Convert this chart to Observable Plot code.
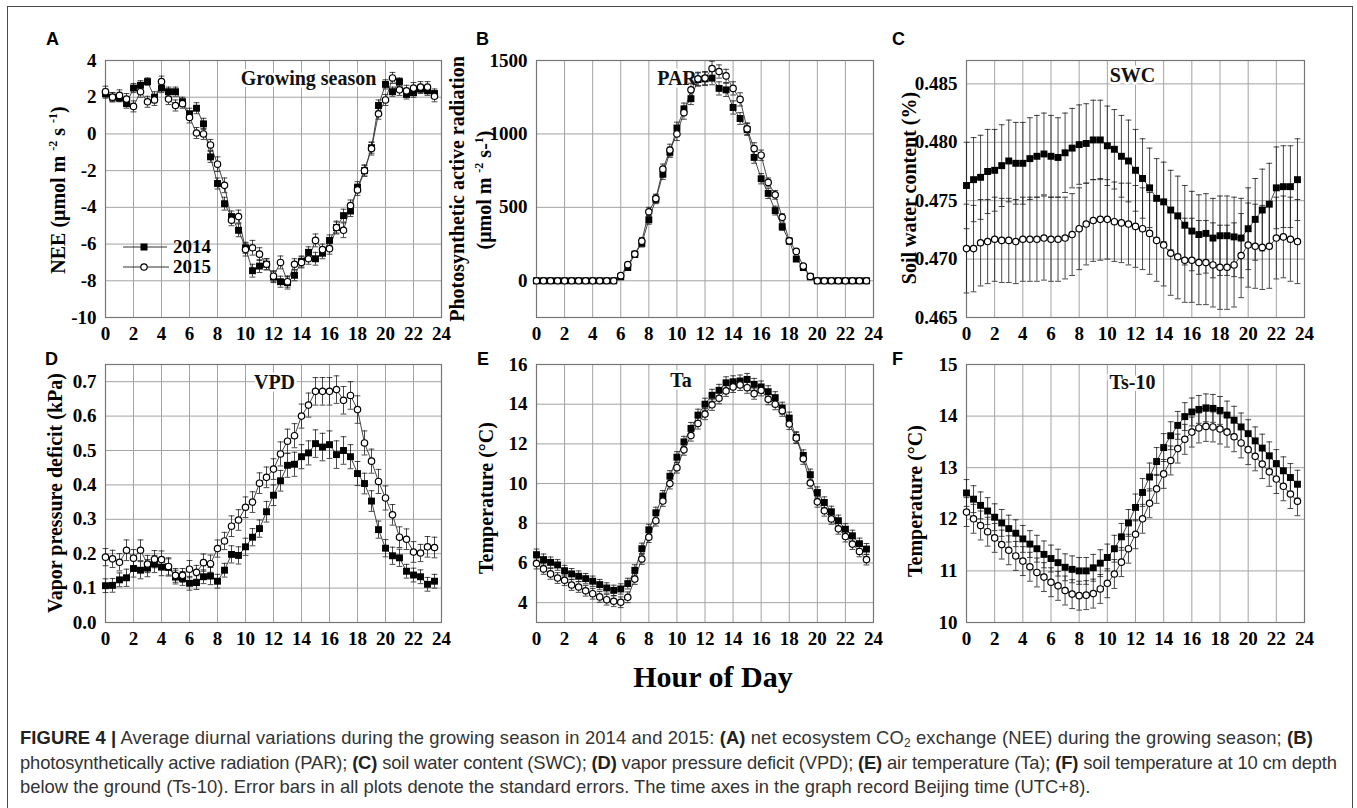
<!DOCTYPE html>
<html>
<head>
<meta charset="utf-8">
<script src="https://cdn.jsdelivr.net/npm/d3@7"></script>
<script src="https://cdn.jsdelivr.net/npm/@observablehq/plot@0.6"></script>
<style>
  body { margin: 0; background: #fff; }
  #fig { position: relative; width: 1357px; height: 808px; overflow: hidden; background: #fff; }
  #border { position: absolute; left: 7px; top: 6px; width: 1346px; height: 900px; border: 1.5px solid #4a4a4a; box-sizing: border-box; }
  .panel-letter { position: absolute; font: bold 18px "Liberation Sans", Arial, sans-serif; color: #000; line-height: 1; }
  .ytitle { position: absolute; white-space: nowrap; font: bold 20px "Liberation Serif", "Times New Roman", serif; color: #000;
            transform: translate(-50%, -50%) rotate(-90deg); line-height: 1; }
  .ytitle sup { font-size: 12px; vertical-align: 8px; line-height: 0; }
  #xtitle { position: absolute; left: 713px; top: 677px; transform: translate(-50%, -50%); white-space: nowrap;
            font: bold 30px "Liberation Serif", "Times New Roman", serif; color: #000; }
  #legend { position: absolute; left: 118px; top: 236px; }
  #legend text { font: bold 19px "Liberation Serif", "Times New Roman", serif; }
  #caption { position: absolute; left: 20px; top: 726px; font: 18.4px "Liberation Sans", Arial, sans-serif; color: #333; line-height: 24.5px; white-space: nowrap; }
  #caption b { color: #222; }
  #caption sub { font-size: 12px; vertical-align: -3px; line-height: 0; }
  #caption .l1 { letter-spacing: 0.12px; }
  #caption .l2 { letter-spacing: -0.16px; }
</style>
</head>
<body>
<div id="fig">
  <div id="border"></div>
</div>
<script>
// Half-hourly time of day (Beijing time)
const hours = [0, 0.5, 1, 1.5, 2, 2.5, 3, 3.5, 4, 4.5, 5, 5.5, 6, 6.5, 7, 7.5, 8, 8.5, 9, 9.5, 10, 10.5, 11, 11.5,
               12, 12.5, 13, 13.5, 14, 14.5, 15, 15.5, 16, 16.5, 17, 17.5, 18, 18.5, 19, 19.5, 20, 20.5, 21, 21.5, 22, 22.5, 23, 23.5];
const hourTicks = [0, 2, 4, 6, 8, 10, 12, 14, 16, 18, 20, 22, 24];
const years = ["2014", "2015"];

// (A) NEE, µmol m-2 s-1
const nee2014 = [2.2, 2.0, 1.95, 1.65, 2.5, 2.65, 2.85, 2.0, 2.5, 2.3, 2.3, 1.75, 1.1, 1.4, 0.55, -1.25, -2.7, -3.8, -4.5, -5.25, -6.2, -7.45, -7.2, -7.1,
                 -7.8, -8.05, -8.1, -7.7, -6.95, -6.45, -6.8, -6.5, -5.8, -5.1, -4.45, -4.2, -2.9, -2.0, -0.75, 1.55, 2.7, 2.3, 2.85, 2.15, 2.25, 2.45, 2.35, 2.2];
const nee2015 = [2.3, 2.0, 2.1, 1.9, 1.5, 2.3, 1.75, 1.85, 2.85, 1.9, 1.55, 1.65, 0.9, 0.05, 0.0, -0.6, -1.65, -2.8, -4.7, -4.5, -6.3, -6.2, -6.55, -7.1,
                 -7.75, -7.0, -8.05, -7.1, -7.0, -6.8, -5.8, -6.3, -6.25, -5.1, -5.25, -3.9, -3.05, -2.0, -0.8, 1.1, 1.85, 3.05, 2.4, 2.35, 2.5, 2.55, 2.55, 2.05];
const neeSe2014 = [0.25, 0.25, 0.2, 0.25, 0.25, 0.25, 0.2, 0.3, 0.25, 0.25, 0.25, 0.25, 0.3, 0.3, 0.3, 0.3, 0.3, 0.35, 0.3, 0.35, 0.3, 0.35, 0.35, 0.3,
                   0.3, 0.3, 0.35, 0.3, 0.3, 0.3, 0.35, 0.3, 0.3, 0.3, 0.35, 0.3, 0.3, 0.3, 0.3, 0.3, 0.25, 0.25, 0.2, 0.25, 0.25, 0.25, 0.25, 0.25];
const neeSe2015 = [0.3, 0.25, 0.3, 0.3, 0.3, 0.3, 0.3, 0.3, 0.3, 0.3, 0.3, 0.25, 0.3, 0.3, 0.3, 0.3, 0.4, 0.4, 0.3, 0.35, 0.35, 0.4, 0.35, 0.3,
                   0.3, 0.35, 0.3, 0.3, 0.3, 0.3, 0.35, 0.3, 0.3, 0.35, 0.4, 0.3, 0.3, 0.3, 0.35, 0.3, 0.3, 0.3, 0.3, 0.3, 0.3, 0.3, 0.3, 0.3];

// (B) PAR, µmol m-2 s-1
const par2014 = [0, 0, 0, 0, 0, 0, 0, 0, 0, 0, 0, 0, 27, 90, 180, 255, 415, 555, 725, 875, 1040, 1170, 1240, 1370,
                 1375, 1380, 1310, 1300, 1180, 1105, 1030, 840, 695, 595, 478, 368, 270, 148, 90, 27, 0, 0, 0, 0, 0, 0, 0, 0];
const par2015 = [0, 0, 0, 0, 0, 0, 0, 0, 0, 0, 0, 0, 35, 110, 182, 270, 470, 560, 760, 890, 1000, 1145, 1300, 1375,
                 1380, 1445, 1425, 1395, 1310, 1235, 1035, 900, 855, 670, 585, 432, 272, 200, 100, 30, 0, 0, 0, 0, 0, 0, 0, 0];
const parSe2014 = [0, 0, 0, 0, 0, 0, 0, 0, 0, 0, 0, 0, 8, 15, 20, 25, 30, 30, 35, 35, 40, 40, 40, 45,
                   45, 45, 45, 45, 45, 40, 40, 40, 35, 35, 30, 25, 20, 15, 10, 5, 0, 0, 0, 0, 0, 0, 0, 0];
const parSe2015 = [0, 0, 0, 0, 0, 0, 0, 0, 0, 0, 0, 0, 8, 15, 20, 25, 30, 30, 35, 40, 45, 45, 45, 45,
                   45, 50, 45, 45, 45, 45, 40, 40, 35, 30, 30, 25, 20, 15, 10, 5, 0, 0, 0, 0, 0, 0, 0, 0];

// (C) Soil water content
const swc2014 = [0.4763, 0.4768, 0.4770, 0.4775, 0.4776, 0.4780, 0.4784, 0.4782, 0.4782, 0.4786, 0.4788, 0.4790, 0.4788, 0.4787, 0.4791, 0.4795,
                 0.4798, 0.4799, 0.4802, 0.4802, 0.4797, 0.4794, 0.4788, 0.4784, 0.4776, 0.4769, 0.4761, 0.4752, 0.4749, 0.4742, 0.4737, 0.4729,
                 0.4724, 0.4721, 0.4722, 0.4718, 0.4720, 0.4720, 0.4719, 0.4718, 0.4726, 0.4734, 0.4742, 0.4747, 0.4761, 0.4762, 0.4762, 0.4768];
const swc2015 = [0.4709, 0.4709, 0.4714, 0.4715, 0.4717, 0.4716, 0.4716, 0.4715, 0.4717, 0.4717, 0.4717, 0.4718, 0.4717, 0.4717, 0.4718, 0.4721,
                 0.4726, 0.4730, 0.4733, 0.4734, 0.4734, 0.4732, 0.4731, 0.4730, 0.4728, 0.4726, 0.4722, 0.4716, 0.4712, 0.4705, 0.4702, 0.4699,
                 0.4699, 0.4697, 0.4697, 0.4695, 0.4693, 0.4693, 0.4695, 0.4703, 0.4712, 0.4711, 0.4710, 0.4711, 0.4718, 0.4719, 0.4717, 0.4715];
const swcSe2014 = [0.0037, 0.0036, 0.0036, 0.0036, 0.0035, 0.0035, 0.0035, 0.0035, 0.0035, 0.0035, 0.0035, 0.0035, 0.0035, 0.0034, 0.0034, 0.0034,
                   0.0034, 0.0034, 0.0034, 0.0034, 0.0034, 0.0034, 0.0035, 0.0035, 0.0035, 0.0034, 0.0034, 0.0034, 0.0034, 0.0034, 0.0034, 0.0034,
                   0.0034, 0.0034, 0.0034, 0.0034, 0.0034, 0.0034, 0.0034, 0.0034, 0.0035, 0.0035, 0.0035, 0.0035, 0.0035, 0.0035, 0.0035, 0.0035];
const swcSe2015 = [0.0038, 0.0037, 0.0037, 0.0036, 0.0036, 0.0036, 0.0036, 0.0036, 0.0036, 0.0036, 0.0036, 0.0036, 0.0036, 0.0036, 0.0035, 0.0035,
                   0.0035, 0.0035, 0.0035, 0.0035, 0.0034, 0.0034, 0.0034, 0.0035, 0.0035, 0.0035, 0.0035, 0.0035, 0.0035, 0.0036, 0.0036, 0.0036,
                   0.0036, 0.0036, 0.0036, 0.0036, 0.0036, 0.0036, 0.0036, 0.0036, 0.0036, 0.0036, 0.0036, 0.0036, 0.0035, 0.0035, 0.0036, 0.0036];

// (D) VPD, kPa
const vpd2014 = [0.107, 0.108, 0.124, 0.130, 0.157, 0.152, 0.158, 0.170, 0.161, 0.160, 0.132, 0.128, 0.114, 0.116, 0.133, 0.135,
                 0.120, 0.152, 0.198, 0.195, 0.220, 0.248, 0.273, 0.322, 0.370, 0.412, 0.457, 0.460, 0.482, 0.493, 0.520, 0.510,
                 0.517, 0.488, 0.500, 0.482, 0.433, 0.404, 0.353, 0.270, 0.216, 0.194, 0.188, 0.149, 0.138, 0.133, 0.111, 0.120];
const vpd2015 = [0.190, 0.185, 0.175, 0.210, 0.187, 0.210, 0.170, 0.184, 0.183, 0.163, 0.137, 0.137, 0.155, 0.146, 0.174, 0.171,
                 0.215, 0.237, 0.280, 0.298, 0.335, 0.350, 0.405, 0.422, 0.446, 0.490, 0.527, 0.543, 0.600, 0.632, 0.672, 0.672,
                 0.672, 0.677, 0.646, 0.660, 0.619, 0.522, 0.469, 0.410, 0.362, 0.313, 0.248, 0.242, 0.205, 0.202, 0.220, 0.218];
const vpdSe2014 = [0.02, 0.02, 0.02, 0.025, 0.025, 0.025, 0.025, 0.025, 0.025, 0.025, 0.02, 0.02, 0.02, 0.02, 0.02, 0.025,
                   0.02, 0.02, 0.025, 0.025, 0.025, 0.025, 0.025, 0.03, 0.03, 0.03, 0.035, 0.035, 0.035, 0.035, 0.04, 0.04,
                   0.04, 0.04, 0.04, 0.035, 0.035, 0.03, 0.03, 0.025, 0.025, 0.025, 0.025, 0.02, 0.02, 0.02, 0.02, 0.02];
const vpdSe2015 = [0.025, 0.025, 0.025, 0.03, 0.025, 0.03, 0.025, 0.025, 0.025, 0.025, 0.02, 0.02, 0.025, 0.02, 0.025, 0.025,
                   0.025, 0.025, 0.03, 0.03, 0.03, 0.03, 0.03, 0.03, 0.03, 0.035, 0.035, 0.035, 0.035, 0.035, 0.04, 0.04,
                   0.04, 0.04, 0.04, 0.04, 0.04, 0.035, 0.035, 0.035, 0.035, 0.03, 0.03, 0.03, 0.03, 0.025, 0.03, 0.03];

// (E) Air temperature, °C
const ta2014 = [6.42, 6.17, 6.03, 5.90, 5.61, 5.45, 5.33, 5.21, 5.08, 4.91, 4.74, 4.62, 4.69, 4.96, 5.63, 6.72,
                7.67, 8.53, 9.37, 10.37, 11.33, 12.10, 12.78, 13.45, 14.00, 14.45, 14.70, 15.08, 15.13, 15.17, 15.25, 15.00,
                14.87, 14.63, 14.33, 13.80, 13.30, 12.33, 11.42, 10.45, 9.55, 9.05, 8.58, 8.13, 7.70, 7.37, 6.97, 6.70];
const ta2015 = [5.97, 5.70, 5.45, 5.24, 5.13, 4.89, 4.79, 4.60, 4.45, 4.29, 4.15, 4.07, 4.02, 4.27, 5.19, 6.20,
                7.30, 8.13, 9.12, 10.00, 10.80, 11.70, 12.42, 13.03, 13.50, 13.97, 14.30, 14.67, 14.87, 14.97, 14.83, 14.53,
                14.70, 14.25, 14.00, 13.67, 13.00, 12.30, 11.25, 10.03, 9.08, 8.63, 8.22, 7.72, 7.33, 6.95, 6.58, 6.17];
const taSe2014 = [0.28, 0.28, 0.27, 0.27, 0.27, 0.27, 0.27, 0.26, 0.26, 0.26, 0.26, 0.26, 0.26, 0.27, 0.28, 0.28,
                  0.28, 0.28, 0.28, 0.28, 0.28, 0.28, 0.3, 0.3, 0.3, 0.3, 0.3, 0.3, 0.3, 0.3, 0.3, 0.3,
                  0.3, 0.3, 0.3, 0.3, 0.3, 0.28, 0.28, 0.28, 0.28, 0.28, 0.28, 0.28, 0.28, 0.28, 0.28, 0.28];
const taSe2015 = [0.27, 0.27, 0.27, 0.27, 0.27, 0.27, 0.27, 0.27, 0.27, 0.27, 0.27, 0.27, 0.27, 0.27, 0.27, 0.27,
                  0.27, 0.27, 0.27, 0.27, 0.27, 0.27, 0.28, 0.28, 0.28, 0.28, 0.28, 0.28, 0.28, 0.28, 0.28, 0.28,
                  0.28, 0.28, 0.28, 0.28, 0.28, 0.28, 0.28, 0.27, 0.27, 0.27, 0.27, 0.27, 0.27, 0.27, 0.27, 0.27];

// (F) Soil temperature at 10 cm, °C
const ts2014 = [12.51, 12.39, 12.27, 12.16, 12.04, 11.93, 11.82, 11.73, 11.62, 11.52, 11.43, 11.32, 11.24, 11.16, 11.07, 11.03,
                11.00, 11.00, 11.06, 11.15, 11.26, 11.43, 11.66, 11.93, 12.23, 12.52, 12.82, 13.12, 13.39, 13.62, 13.82, 13.99,
                14.08, 14.13, 14.16, 14.15, 14.11, 14.02, 13.92, 13.79, 13.66, 13.52, 13.38, 13.23, 13.08, 12.94, 12.81, 12.68];
const ts2015 = [12.14, 12.01, 11.88, 11.76, 11.64, 11.51, 11.40, 11.29, 11.19, 11.08, 10.97, 10.88, 10.78, 10.71, 10.62, 10.55,
                10.52, 10.53, 10.56, 10.65, 10.76, 10.94, 11.17, 11.43, 11.71, 12.01, 12.31, 12.59, 12.88, 13.14, 13.37, 13.55,
                13.69, 13.77, 13.80, 13.79, 13.75, 13.69, 13.60, 13.48, 13.35, 13.22, 13.07, 12.92, 12.78, 12.64, 12.49, 12.35];
const tsSe2014 = [0.26, 0.26, 0.26, 0.26, 0.26, 0.26, 0.26, 0.26, 0.26, 0.26, 0.26, 0.26, 0.26, 0.26, 0.26, 0.26,
                  0.26, 0.26, 0.26, 0.26, 0.26, 0.26, 0.26, 0.26, 0.26, 0.27, 0.27, 0.27, 0.27, 0.27, 0.27, 0.27,
                  0.27, 0.27, 0.27, 0.27, 0.27, 0.27, 0.27, 0.27, 0.27, 0.27, 0.27, 0.27, 0.27, 0.27, 0.27, 0.27];
const tsSe2015 = [0.28, 0.28, 0.28, 0.28, 0.28, 0.28, 0.28, 0.28, 0.28, 0.28, 0.28, 0.28, 0.28, 0.28, 0.28, 0.28,
                  0.28, 0.28, 0.28, 0.28, 0.28, 0.28, 0.28, 0.28, 0.28, 0.28, 0.28, 0.28, 0.28, 0.28, 0.28, 0.29,
                  0.29, 0.29, 0.29, 0.29, 0.29, 0.29, 0.29, 0.29, 0.29, 0.28, 0.28, 0.28, 0.28, 0.28, 0.28, 0.28];

// ---------------------------------------------------------------------------
const fig = document.getElementById("fig");
const serif = '"Liberation Serif", "Times New Roman", serif';
const GRID = "#a3a3a3", FRAME = "#767676", INK = "#1a1a1a";
const ML = 70, MR = 10, MT = 10, MB = 36;
const plain = d => String(d);   // "1500", "-10", "15": no grouping, hyphen minus

// Horizontal cap drawn at the ends of each error bar
const capSymbol = {
  draw(context, size) {
    const r = Math.sqrt(size / Math.PI);
    context.moveTo(-r, 0);
    context.lineTo(r, 0);
  }
};

function rows(values, se) {
  return hours.map((hour, i) => ({hour, v: values[i], se: se[i]}));
}

function errorBars(data) {
  return [
    Plot.ruleX(data, {x: "hour", y1: d => d.v - d.se, y2: d => d.v + d.se, stroke: INK, strokeWidth: 0.8}),
    Plot.dot(data, {x: "hour", y: d => d.v + d.se, symbol: capSymbol, r: 2.9, fill: "none", stroke: INK, strokeWidth: 0.8}),
    Plot.dot(data, {x: "hour", y: d => d.v - d.se, symbol: capSymbol, r: 2.9, fill: "none", stroke: INK, strokeWidth: 0.8})
  ];
}

function panel(cfg) {
  const a = rows(cfg.y2014, cfg.se2014);
  const b = rows(cfg.y2015, cfg.se2015);
  const width = cfg.box[2] - cfg.box[0] + ML + MR;
  const height = cfg.box[3] - cfg.box[1] + MT + MB;
  const chart = Plot.plot({
    width, height,
    marginLeft: ML, marginRight: MR, marginTop: MT, marginBottom: MB,
    x: {domain: [0, 24]},
    y: {domain: cfg.yDomain},
    style: {fontFamily: serif, fontWeight: "bold", fontSize: "19px", color: "#000", background: "transparent", overflow: "visible", maxWidth: "none"},
    marks: [
      Plot.gridX(hourTicks, {stroke: GRID, strokeOpacity: 1, strokeWidth: 1}),
      Plot.gridY(cfg.yTicks, {stroke: GRID, strokeOpacity: 1, strokeWidth: 1}),
      Plot.frame({stroke: FRAME, strokeWidth: 1.2}),
      Plot.axisX(hourTicks, {tickSize: 0, tickPadding: 9, label: null, tickFormat: plain}),
      Plot.axisY(cfg.yTicks, {tickSize: 0, tickPadding: 9, label: null, tickFormat: cfg.format || plain}),
      Plot.text([cfg.title], {frameAnchor: "top", dx: cfg.titleDx, dy: cfg.titleDy, lineAnchor: "middle",
                              fontSize: 20, fill: "#111", stroke: "white", strokeWidth: 5}),
      ...errorBars(a),
      ...errorBars(b),
      Plot.line(a, {x: "hour", y: "v", stroke: "#333", strokeWidth: 0.9}),
      Plot.line(b, {x: "hour", y: "v", stroke: "#333", strokeWidth: 0.9}),
      Plot.dot(a, {x: "hour", y: "v", symbol: "square", r: 3.9, fill: "#000", stroke: "none"}),
      Plot.dot(b, {x: "hour", y: "v", symbol: "circle", r: 3.2, fill: "#fff", stroke: "#000", strokeWidth: 1.2})
    ]
  });
  chart.style.position = "absolute";
  chart.style.left = (cfg.box[0] - ML) + "px";
  chart.style.top = (cfg.box[1] - MT) + "px";
  fig.appendChild(chart);
}

const rowTop = [60, 317], rowBottom = [364, 622];
const colA = [105, 441], colB = [536, 873], colC = [966, 1304];

panel({box: [colA[0], rowTop[0], colA[1], rowTop[1]], yDomain: [-10, 4], yTicks: [-10, -8, -6, -4, -2, 0, 2, 4],
       y2014: nee2014, y2015: nee2015, se2014: neeSe2014, se2015: neeSe2015,
       title: "Growing season", titleDx: 35, titleDy: 18});
panel({box: [colB[0], rowTop[0], colB[1], rowTop[1]], yDomain: [-250, 1500], yTicks: [0, 500, 1000, 1500],
       y2014: par2014, y2015: par2015, se2014: parSe2014, se2015: parSe2015,
       title: "PAR", titleDx: -28, titleDy: 18});
panel({box: [colC[0], rowTop[0], colC[1], rowTop[1]], yDomain: [0.465, 0.487], yTicks: [0.465, 0.47, 0.475, 0.48, 0.485], format: d3.format(".3f"),
       y2014: swc2014, y2015: swc2015, se2014: swcSe2014, se2015: swcSe2015,
       title: "SWC", titleDx: -3, titleDy: 15});
panel({box: [colA[0], rowBottom[0], colA[1], rowBottom[1]], yDomain: [0, 0.75], yTicks: [0, 0.1, 0.2, 0.3, 0.4, 0.5, 0.6, 0.7], format: d3.format(".1f"),
       y2014: vpd2014, y2015: vpd2015, se2014: vpdSe2014, se2015: vpdSe2015,
       title: "VPD", titleDx: 1, titleDy: 18});
panel({box: [colB[0], rowBottom[0], colB[1], rowBottom[1]], yDomain: [3, 16], yTicks: [4, 6, 8, 10, 12, 14, 16],
       y2014: ta2014, y2015: ta2015, se2014: taSe2014, se2015: taSe2015,
       title: "Ta", titleDx: -24, titleDy: 16});
panel({box: [colC[0], rowBottom[0], colC[1], rowBottom[1]], yDomain: [10, 15], yTicks: [10, 11, 12, 13, 14, 15],
       y2014: ts2014, y2015: ts2015, se2014: tsSe2014, se2015: tsSe2015,
       title: "Ts-10", titleDx: -3, titleDy: 18});

// Panel letters
[["A", 46, 30], ["B", 476, 30], ["C", 892, 30], ["D", 45, 350], ["E", 477, 350], ["F", 892, 350]].forEach(([t, x, y]) => {
  const d = document.createElement("div");
  d.className = "panel-letter";
  d.style.left = x + "px"; d.style.top = y + "px";
  d.textContent = t;
  fig.appendChild(d);
});

// Rotated y-axis titles
function yTitle(html, cx, cy) {
  const d = document.createElement("div");
  d.className = "ytitle";
  d.style.left = cx + "px"; d.style.top = cy + "px";
  d.innerHTML = html;
  fig.appendChild(d);
}
yTitle("NEE (μmol m <sup>-2</sup> s <sup>-1</sup>)", 58, 190);
yTitle("Photosynthetic active radiation", 457, 189);
yTitle("(μmol m <sup>-2</sup> s-<sup>1</sup>)", 484, 190);
yTitle("Soil water content (%)", 909, 188);
yTitle("Vapor pressure deficit (kPa)", 55, 493);
yTitle("Temperature (°C)", 486, 498);
yTitle("Temperature (°C)", 915, 501);

// Shared x-axis title
const xt = document.createElement("div");
xt.id = "xtitle";
xt.textContent = "Hour of Day";
fig.appendChild(xt);

// Year key for panel A
const ns = "http://www.w3.org/2000/svg";
const key = document.createElementNS(ns, "svg");
key.setAttribute("id", "legend");
key.setAttribute("width", 110);
key.setAttribute("height", 46);
years.forEach((yr, i) => {
  const y = 11 + i * 20;
  const line = document.createElementNS(ns, "line");
  line.setAttribute("x1", 5); line.setAttribute("x2", i ? 51 : 49);
  line.setAttribute("y1", y); line.setAttribute("y2", y);
  line.setAttribute("stroke", "#333"); line.setAttribute("stroke-width", 1);
  key.appendChild(line);
  let m;
  if (i === 0) {
    m = document.createElementNS(ns, "rect");
    m.setAttribute("x", 22.5); m.setAttribute("y", y - 3.5); m.setAttribute("width", 7); m.setAttribute("height", 7);
    m.setAttribute("fill", "#000");
  } else {
    m = document.createElementNS(ns, "circle");
    m.setAttribute("cx", 26); m.setAttribute("cy", y); m.setAttribute("r", 3.2);
    m.setAttribute("fill", "#fff"); m.setAttribute("stroke", "#000"); m.setAttribute("stroke-width", 1.2);
  }
  key.appendChild(m);
  const t = document.createElementNS(ns, "text");
  t.setAttribute("x", 55); t.setAttribute("y", y); t.setAttribute("dy", "0.33em");
  t.textContent = yr;
  key.appendChild(t);
});
key.style.position = "absolute";
fig.appendChild(key);

// Caption
const cap = document.createElement("div");
cap.id = "caption";
cap.innerHTML =
  '<div class="l1"><b>FIGURE 4 |</b> Average diurnal variations during the growing season in 2014 and 2015: <b>(A)</b> net ecosystem CO<sub>2</sub> exchange (NEE) during the growing season; <b>(B)</b></div>' +
  '<div class="l2">photosynthetically active radiation (PAR); <b>(C)</b> soil water content (SWC); <b>(D)</b> vapor pressure deficit (VPD); <b>(E)</b> air temperature (Ta); <b>(F)</b> soil temperature at 10 cm depth</div>' +
  '<div class="l3">below the ground (Ts-10). Error bars in all plots denote the standard errors. The time axes in the graph record Beijing time (UTC+8).</div>';
fig.appendChild(cap);
</script>
</body>
</html>
